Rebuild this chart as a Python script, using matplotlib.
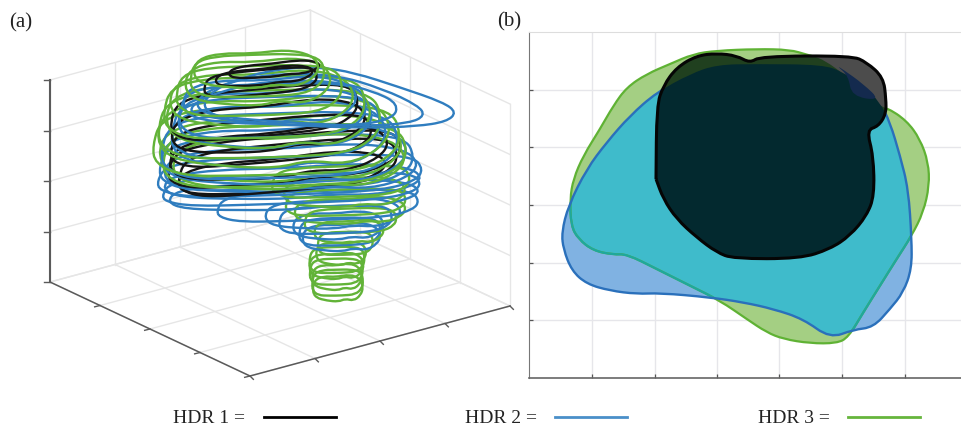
import numpy as np
import matplotlib
matplotlib.use("Agg")
import matplotlib.pyplot as plt
from matplotlib.path import Path
from matplotlib.patches import PathPatch
from matplotlib.lines import Line2D

plt.rcParams['font.family'] = ['Liberation Serif', 'DejaVu Serif']

# ---------- data (units: reference pixels x 3) ----------
BLACK, BLUE, GREEN = '#141414', '#2f7dbf', '#62b338'

legend_labels = ['HDR 1 =', 'HDR 2 =', 'HDR 3 =']

# panel (a): horizontal slices as centre x, centre y, half width, half height
green_cx = [1012,1012,1010,1008,1008,1010,1022,1035,1045,1050,1047,1035,1030,1020,
            860,850,835,825,815,805,800,790,780,775,770,770,765]
green_cy = [868,851,834,818,801,783,763,733,698,665,635,610,580,548,
            490,470,450,425,400,375,350,325,300,275,250,230,212]
green_hw = [72,72,72,75,78,78,72,78,100,130,160,170,175,195,
            335,345,350,350,335,315,295,285,265,235,210,190,180]
green_hh = [34,34,34,34,34,34,30,30,30,32,34,34,38,40,
            70,80,85,90,92,88,85,80,72,65,60,55,48]

blue_cx = [1022,1018,1012,1005,995,950,875,870,870,865,865,855,845,835,830,825,820,815,805]
blue_cy = [715,698,680,662,645,620,590,570,550,530,510,490,470,440,410,385,360,335,305]
blue_hw = [112,115,130,160,195,285,360,365,370,375,365,360,355,335,310,295,280,265,250]
blue_hh = [36,36,36,36,38,38,36,38,42,50,60,70,75,85,85,80,75,70,60]

black_cx = [820,780,790,790,800,810,830,860,840,850]
black_cy = [212,250,232,340,385,425,465,505,525,480]
black_hw = [130,160,140,265,280,285,315,310,300,330]
black_hh = [18,32,22,62,62,56,62,62,45,60]

# slice outlines (unit shapes, clockwise from the left)
unit_x = [-1.05,-0.98,-0.66,-0.10,0.58,1.00,1.08,1.02,0.76,0.20,-0.33,-0.80,-1.03]
unit_y = [0.00,-0.85,-1.15,-1.15,-1.12,-0.85,-0.05,0.60,1.10,1.15,1.12,1.05,0.60]
bump_x = [-1.04,-0.96,-0.57,-0.05,0.52,0.95,1.08,0.97,0.68,0.33,0.05,-0.43,-0.90]
bump_y = [0.10,-0.80,-1.12,-1.00,-1.18,-0.78,0.00,0.70,1.15,0.95,1.18,1.05,0.75]

# blue slices that reach out towards the right of panel (a)
tip_a_x = [960,1060,1200,1330,1370,1340,1250,1100,900,700,600,640,760,880]
tip_a_y = [205,220,265,310,340,368,382,387,380,370,330,270,225,205]
tip_b_x = [1000,1150,1255,1275,1230,1100,850,620,580,650,800]
tip_b_y = [225,270,320,350,372,382,370,350,310,260,225]
tip_c_x = [1000,1130,1195,1180,1050,800,580,570,650,800]
tip_c_y = [245,280,315,360,382,375,350,320,280,245]

# panel (a) box
floor_u_ticks = [0, 1, 2, 3, 4]
floor_v_ticks = [0, 1, 2, 3, 4]
wall_z_ticks = [0, 1, 2, 3, 4]

# panel (b): filled regions
green_x = [240,250,280,330,370,410,470,540,610,680,800,900,950,1000,1080,1090,1190,1250,1290,
           1315,1318,1300,1265,1220,1170,1120,1075,1040,960,880,830,770,690,600,500,410,370,310,265,243]
green_y = [600,540,470,390,320,265,225,195,165,155,150,152,167,180,240,290,325,365,420,
           490,560,640,710,780,860,940,1015,1033,1033,1020,1000,960,905,860,810,765,767,755,720,680]
blue_x = [215,235,290,350,420,500,600,680,800,1000,1060,1120,1170,1200,1230,1255,1265,1265,1240,
          1200,1150,1090,1020,940,850,760,660,510,440,360,290,245,220]
blue_y = [700,620,510,430,350,280,225,197,195,197,220,260,310,370,470,570,720,810,880,
          930,985,992,1018,960,930,910,895,882,885,875,855,815,750]
black_x = [498,500,520,560,620,680,740,780,810,1085,1130,1180,1188,1188,1165,1130,1150,1153,1130,1080,1020,930,730,680,620,560,520,498]
black_y = [540,320,260,205,170,163,170,192,172,170,190,235,300,345,382,393,470,590,650,710,750,779,779,760,715,660,600,540]
navy_x = [1040,1075,1085,1172,1120,1060]
navy_y = [200,230,292,305,255,212]

b_xticks = [307,494,682,868,1056,1244]
b_yticks = [272,445,618,791,964]


def smooth(xs, ys):
    p = np.column_stack([xs, ys]).astype(float)
    mids = (p + np.roll(p, -1, axis=0)) / 2
    verts, codes = [mids[-1]], [Path.MOVETO]
    for c, m in zip(p, mids):
        verts += [c, m]
        codes += [Path.CURVE3, Path.CURVE3]
    return Path(verts, codes)


fig = plt.figure(figsize=(9.61, 4.27), dpi=100, facecolor='white')

# ---------- panel (a) ----------
ax = fig.add_axes([0, 0, 529 / 961, 1])
ax.set_xlim(0, 1587)
ax.set_ylim(1281, 0)
ax.axis('off')

O = np.array([150, 849.0])
U = np.array([195.0, -52.5])   # one floor step towards the back wall
V = np.array([150.0, 70.5])    # one floor step towards the front corner
Z = np.array([0.0, -151.5])    # one height step
GRID = '#e6e6e6'
AX = '#5a5a5a'


def P(u, v, z):
    return O + u * U + v * V + z * Z


def seg(a, b, **kw):
    ax.plot([a[0], b[0]], [a[1], b[1]], **kw)


for t in floor_u_ticks:
    seg(P(t, 0, 0), P(t, 4, 0), color=GRID, lw=1)
    seg(P(t, 0, 0), P(t, 0, 4), color=GRID, lw=1)
for t in floor_v_ticks:
    seg(P(0, t, 0), P(4, t, 0), color=GRID, lw=1)
    seg(P(4, t, 0), P(4, t, 4), color=GRID, lw=1)
for t in wall_z_ticks:
    seg(P(0, 0, t), P(4, 0, t), color=GRID, lw=1)
    seg(P(4, 0, t), P(4, 4, t), color=GRID, lw=1)

seg(P(0, 0, 0), P(0, 0, 4), color=AX, lw=1.5)
seg(P(0, 0, 0), P(0, 4, 0), color=AX, lw=1.1)
seg(P(0, 4, 0), P(4, 4, 0), color=AX, lw=1.1)
for t in wall_z_ticks:
    seg(P(0, 0, t), P(0, 0, t) + np.array([-18, 0]), color=AX, lw=1)
for t in floor_v_ticks[1:]:
    seg(P(0, t, 0), P(0, t, 0) + np.array([-16, 4]), color=AX, lw=1)
for t in floor_u_ticks:
    seg(P(t, 4, 0), P(t, 4, 0) + np.array([10, 10]), color=AX, lw=1)


def slices(cx, cy, hw, hh, color, tilt):
    for i, (x0, y0, w, h) in enumerate(zip(cx, cy, hw, hh)):
        ux, uy = (unit_x, unit_y) if i % 2 else (bump_x, bump_y)
        xs = x0 + w * np.array(ux)
        ys = y0 + h * np.array(uy) + tilt * (xs - x0)
        ax.add_patch(PathPatch(smooth(xs, ys), fill=False, edgecolor=color,
                               lw=1.7, zorder=3000 - y0))


slices(blue_cx, blue_cy, blue_hw, blue_hh, BLUE, -0.04)
slices(black_cx, black_cy, black_hw, black_hh, BLACK, -0.10)
slices(green_cx, green_cy, green_hw, green_hh, GREEN, -0.04)
for xs, ys in [(tip_a_x, tip_a_y), (tip_b_x, tip_b_y), (tip_c_x, tip_c_y)]:
    ax.add_patch(PathPatch(smooth(xs, ys), fill=False, edgecolor=BLUE, lw=1.7, zorder=2700))

# ---------- panel (b) ----------
bx = fig.add_axes([529 / 961, 1 - 379 / 427, 432 / 961, 346 / 427], facecolor='white')
bx.set_xlim(117, 1413)
bx.set_ylim(1137, 99)
bx.set_xticks(b_xticks)
bx.set_yticks(b_yticks)
bx.set_xticklabels([])
bx.set_yticklabels([])
bx.tick_params(direction='in', length=3, width=0.9, color='#555555')
bx.grid(True, color='#e6e6ea', lw=1)
bx.set_axisbelow(True)
bx.spines['right'].set_visible(False)
bx.spines['top'].set_color('#dddddd')
bx.spines['left'].set_color('#777777')
bx.spines['bottom'].set_color('#666666')
bx.spines['bottom'].set_linewidth(1.2)


def fill(xs, ys, face, edge=None, lw=0, z=2, clip=None):
    patch = PathPatch(smooth(xs, ys), facecolor=face, edgecolor=edge or 'none', lw=lw, zorder=z)
    bx.add_patch(patch)
    if clip is not None:
        patch.set_clip_path(clip)
    return patch


g = fill(green_x, green_y, '#a4cf83', z=2)
b = fill(blue_x, blue_y, '#80b2e2', z=2.1)
fill(blue_x, blue_y, '#3fbbcb', z=2.2, clip=g)
fill(green_x, green_y, 'none', '#5fb234', 1.6, z=2.3)
fill(green_x, green_y, 'none', '#1fa89c', 1.6, z=2.4, clip=b)
fill(blue_x, blue_y, 'none', '#2a70bb', 1.7, z=2.5)
k = fill(black_x, black_y, '#4c4c4c', z=3)
fill(green_x, green_y, '#20401f', z=3.1, clip=k)
fill(blue_x, blue_y, '#03292f', z=3.2, clip=k)
fill(navy_x, navy_y, '#142a4e', z=3.3, clip=k)
fill(black_x, black_y, 'none', '#050505', 2.2, z=3.4)

# ---------- labels and key ----------
fig.text(9 / 961, 1 - 27 / 427, '(a)', fontsize=15, color='#222222')
fig.text(497 / 961, 1 - 26 / 427, '(b)', fontsize=15, color='#222222')

key_text_x = [173, 465, 758]
key_line_x = [(264, 336), (555, 627), (848, 920)]
for lab, tx, (x0, x1), c in zip(legend_labels, key_text_x, key_line_x, ['#000000', '#4a8fc9', '#66b53c']):
    fig.text(tx / 961, 1 - 423 / 427, lab, fontsize=14, color='#222222', va='baseline')
    fig.add_artist(Line2D([x0 / 961, x1 / 961], [1 - 418 / 427] * 2, color=c, lw=2,
                          transform=fig.transFigure))

fig.savefig('out.png', dpi=100)
